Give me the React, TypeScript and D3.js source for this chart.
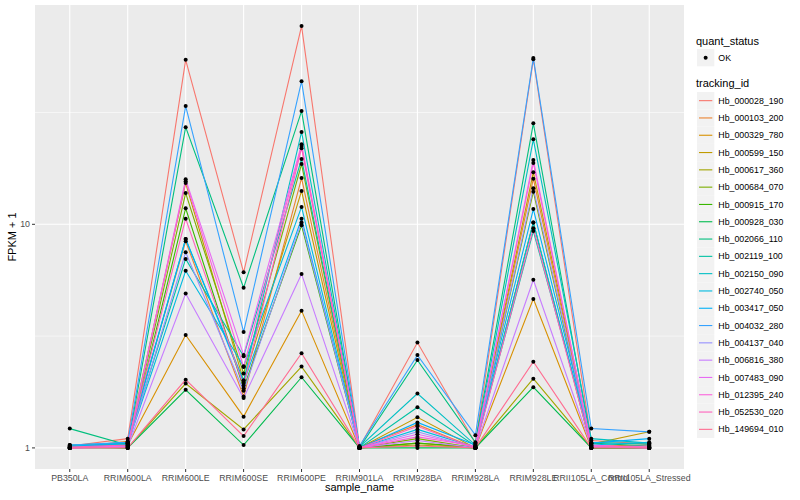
import React from "react";
import * as d3 from "d3";

// sample order as in the plot
const samples = [
    "PB350LA", "RRIM600LA", "RRIM600LE", "RRIM600SE", "RRIM600PE", "RRIM901LA",
    "RRIM928BA", "RRIM928LA", "RRIM928LE", "RRII105LA_Control", "RRII105LA_Stressed",
];

const trackingIds = [
    "Hb_000028_190", "Hb_000103_200", "Hb_000329_780", "Hb_000599_150", "Hb_000617_360",
    "Hb_000684_070", "Hb_000915_170", "Hb_000928_030", "Hb_002066_110", "Hb_002119_100",
    "Hb_002150_090", "Hb_002740_050", "Hb_003417_050", "Hb_004032_280", "Hb_004137_040",
    "Hb_006816_380", "Hb_007483_090", "Hb_012395_240", "Hb_052530_020", "Hb_149694_010",
];

// FPKM per tracking id, one value per sample
const fpkm = [
    [0.02, 0.10, 53.4, 5.1, 76.0, 0.01, 1.96, 0.05, 53.7, 0.08, 0.04],
    [0.00, 0.07, 7.4, 0.7, 15.1, 0.01, 0.27, 0.00, 15.0, 0.02, 0.03],
    [0.00, 0.03, 2.2, 0.38, 3.11, 0.00, 0.05, 0.00, 3.64, 0.00, 0.00],
    [0.00, 0.05, 14.3, 1.0, 13.1, 0.00, 0.37, 0.00, 16.1, 0.04, 0.18],
    [0.01, 0.00, 0.94, 0.21, 1.31, 0.00, 0.03, 0.00, 1.04, 0.00, 0.00],
    [0.00, 0.02, 12.8, 1.15, 17.6, 0.00, 0.10, 0.00, 13.0, 0.00, 0.01],
    [0.02, 0.00, 10.8, 0.85, 8.9, 0.00, 0.05, 0.01, 9.2, 0.00, 0.00],
    [0.00, 0.00, 0.82, 0.03, 1.07, 0.00, 0.00, 0.00, 0.87, 0.00, 0.00],
    [0.22, 0.03, 26.2, 4.2, 31.1, 0.00, 1.47, 0.06, 27.3, 0.05, 0.02],
    [0.03, 0.05, 6.0, 1.57, 18.6, 0.00, 0.52, 0.02, 8.33, 0.06, 0.04],
    [0.01, 0.04, 7.6, 1.0, 24.9, 0.01, 0.75, 0.03, 23.0, 0.10, 0.05],
    [0.02, 0.04, 5.2, 1.32, 10.96, 0.00, 0.21, 0.01, 9.2, 0.03, 0.06],
    [0.01, 0.06, 7.6, 0.95, 9.6, 0.00, 0.30, 0.03, 10.7, 0.05, 0.10],
    [0.03, 0.06, 32.8, 2.3, 42.6, 0.02, 1.60, 0.14, 54.5, 0.22, 0.18],
    [0.00, 0.02, 6.5, 0.8, 9.2, 0.00, 0.18, 0.00, 13.5, 0.02, 0.00],
    [0.00, 0.01, 3.9, 0.67, 5.0, 0.00, 0.08, 0.00, 4.65, 0.01, 0.00],
    [0.00, 0.02, 14.9, 1.6, 21.8, 0.00, 0.15, 0.01, 18.4, 0.02, 0.01],
    [0.00, 0.01, 14.6, 1.3, 21.4, 0.00, 0.12, 0.02, 17.8, 0.03, 0.00],
    [0.01, 0.03, 9.6, 0.9, 20.9, 0.00, 0.25, 0.00, 8.6, 0.01, 0.02],
    [0.00, 0.00, 1.02, 0.13, 1.65, 0.00, 0.02, 0.00, 1.43, 0.00, 0.00],
];

// ggplot hue palette for 20 levels
const colors = [
    "#F8766D", "#EA8331", "#D89000", "#C09B00", "#A3A500", "#7CAE00", "#39B600",
    "#00BB4E", "#00BF7D", "#00C1A3", "#00BFC4", "#00BAE0", "#00B0F6", "#35A2FF",
    "#9590FF", "#C77CFF", "#E76BF3", "#FA62DB", "#FF62BC", "#FF6C91",
];

const yTicks = [1, 10];
const yMinor = [Math.sqrt(10), Math.sqrt(1000)];

const W = 800, H = 500;
const panel = { left: 35, right: 684, top: 5, bottom: 469 };
const font = "'Liberation Sans', Arial, sans-serif";

const App = () => {
    const x = d3.scalePoint<string>()
        .domain(samples)
        .range([panel.left, panel.right])
        .padding(0.6);

    const all = fpkm.flat().map((v) => Math.log10(v + 1));
    const lo = d3.min(all)!, hi = d3.max(all)!;
    const pad = (hi - lo) * 0.05;
    const y = d3.scaleLog()
        .domain([Math.pow(10, lo - pad), Math.pow(10, hi + pad)])
        .range([panel.bottom, panel.top]);

    const line = d3.line<number>()
        .x((d, i) => x(samples[i])!)
        .y((d) => y(d + 1));

    const legX = 697;
    const keyH = 17.3;

    return (
        <svg width={W} height={H} style={{ position: "absolute", left: 0, top: 0, background: "#fff" }}
            fontFamily={font}>
            <rect x={panel.left} y={panel.top} width={panel.right - panel.left}
                height={panel.bottom - panel.top} fill="#EBEBEB" />
            {yMinor.map((t) => (
                <line key={"m" + t} x1={panel.left} x2={panel.right} y1={y(t)} y2={y(t)}
                    stroke="#fff" strokeWidth={0.55} />
            ))}
            {yTicks.map((t) => (
                <line key={"y" + t} x1={panel.left} x2={panel.right} y1={y(t)} y2={y(t)}
                    stroke="#fff" strokeWidth={1.1} />
            ))}
            {samples.map((s) => (
                <line key={"x" + s} x1={x(s)} x2={x(s)} y1={panel.top} y2={panel.bottom}
                    stroke="#fff" strokeWidth={1.1} />
            ))}

            {fpkm.map((vals, i) => (
                <path key={trackingIds[i]} d={line(vals)!} fill="none" stroke={colors[i]} strokeWidth={1.1} />
            ))}
            {fpkm.map((vals, i) =>
                vals.map((v, j) => (
                    <circle key={i + "-" + j} cx={x(samples[j])} cy={y(v + 1)} r={2} fill="#000" />
                ))
            )}

            {/* y axis */}
            {yTicks.map((t) => (
                <g key={"yt" + t}>
                    <line x1={panel.left - 3} x2={panel.left} y1={y(t)} y2={y(t)} stroke="#333" strokeWidth={1} />
                    <text x={panel.left - 5} y={y(t)} dy="0.35em" textAnchor="end" fontSize={8.8} fill="#4D4D4D">
                        {t}
                    </text>
                </g>
            ))}
            <text transform={`translate(16 ${(panel.top + panel.bottom) / 2}) rotate(-90)`}
                textAnchor="middle" fontSize={11} fill="#000">FPKM + 1</text>

            {/* x axis */}
            {samples.map((s) => (
                <g key={"xt" + s}>
                    <line x1={x(s)} x2={x(s)} y1={panel.bottom} y2={panel.bottom + 3} stroke="#333" strokeWidth={1} />
                    <text x={x(s)} y={panel.bottom + 12} textAnchor="middle" fontSize={8.8} fill="#4D4D4D">{s}</text>
                </g>
            ))}
            <text x={(panel.left + panel.right) / 2} y={491} textAnchor="middle" fontSize={11} fill="#000">
                sample_name
            </text>

            {/* legends */}
            <text x={legX - 1} y={45} fontSize={11}>quant_status</text>
            <rect x={legX} y={49} width={keyH} height={keyH} fill="#F2F2F2" />
            <circle cx={legX + keyH / 2} cy={49 + keyH / 2} r={2} fill="#000" />
            <text x={legX + keyH + 4} y={49 + keyH / 2} dy="0.35em" fontSize={8.8}>OK</text>

            <text x={legX - 1} y={87} fontSize={11}>tracking_id</text>
            {trackingIds.map((id, i) => {
                const ky = 92 + i * keyH;
                return (
                    <g key={"lg" + id}>
                        <rect x={legX} y={ky} width={keyH} height={keyH} fill="#F2F2F2" />
                        <line x1={legX + 2} x2={legX + keyH - 2} y1={ky + keyH / 2} y2={ky + keyH / 2}
                            stroke={colors[i]} strokeWidth={1.1} />
                        <text x={legX + keyH + 4} y={ky + keyH / 2} dy="0.35em" fontSize={8.8}>{id}</text>
                    </g>
                );
            })}
        </svg>
    );
};

export default App;
